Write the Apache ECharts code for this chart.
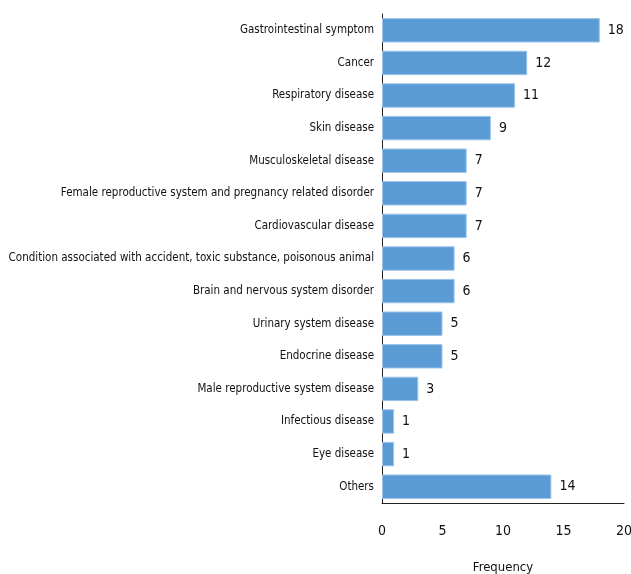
<!DOCTYPE html>
<html>
<head>
<meta charset="utf-8">
<script src="https://cdn.jsdelivr.net/npm/echarts@6/dist/echarts.min.js"></script>
<style>
  html, body { margin: 0; padding: 0; background: #fff; }
  #chart { width: 631px; height: 574px; }
</style>
</head>
<body>
<div id="chart"></div>
<script>
const categories = [
    'Gastrointestinal symptom',
    'Cancer',
    'Respiratory disease',
    'Skin disease',
    'Musculoskeletal disease',
    'Female reproductive system and pregnancy related disorder',
    'Cardiovascular disease',
    'Condition associated with accident, toxic substance, poisonous animal',
    'Brain and nervous system disorder',
    'Urinary system disease',
    'Endocrine disease',
    'Male reproductive system disease',
    'Infectious disease',
    'Eye disease',
    'Others'
];
const frequency = [18, 12, 11, 9, 7, 7, 7, 6, 6, 5, 5, 3, 1, 1, 14];

const xTicks = [0, 5, 10, 15, 20];

const font = '"DejaVu Sans Condensed", "Liberation Sans", sans-serif';

const chart = echarts.init(document.getElementById('chart'));

const option = {
    animation: false,
    textStyle: { fontFamily: font },
    grid: {
        left: 382,
        right: 7,
        top: 14,
        bottom: 71,
        containLabel: false,
        outerBoundsMode: 'none'
    },
    xAxis: {
        type: 'value',
        min: xTicks[0],
        max: xTicks[xTicks.length - 1],
        interval: 5,
        name: 'Frequency',
        nameLocation: 'middle',
        nameGap: 58,
        nameTextStyle: { color: '#111', fontSize: 13, fontFamily: font },
        axisLine: { show: true, lineStyle: { color: '#222', width: 1 } },
        axisTick: { show: false },
        splitLine: { show: false },
        axisLabel: { color: '#111', fontSize: 14, margin: 21, fontFamily: font }
    },
    yAxis: {
        type: 'category',
        inverse: true,
        data: categories,
        axisLine: { show: true, lineStyle: { color: '#222', width: 1 } },
        axisTick: { show: false },
        axisLabel: { color: '#111', fontSize: 11.5, margin: 8, fontFamily: font }
    },
    series: [{
        type: 'bar',
        data: frequency,
        barWidth: '75%',
        itemStyle: {
            color: '#5b9bd5',
            borderColor: '#9fc5ea',
            borderWidth: 1
        },
        label: {
            show: true,
            position: 'right',
            distance: 8,
            color: '#111',
            fontSize: 14,
            fontFamily: font
        }
    }]
};

chart.setOption(option);
window.addEventListener('resize', chart.resize);
</script>
</body>
</html>
